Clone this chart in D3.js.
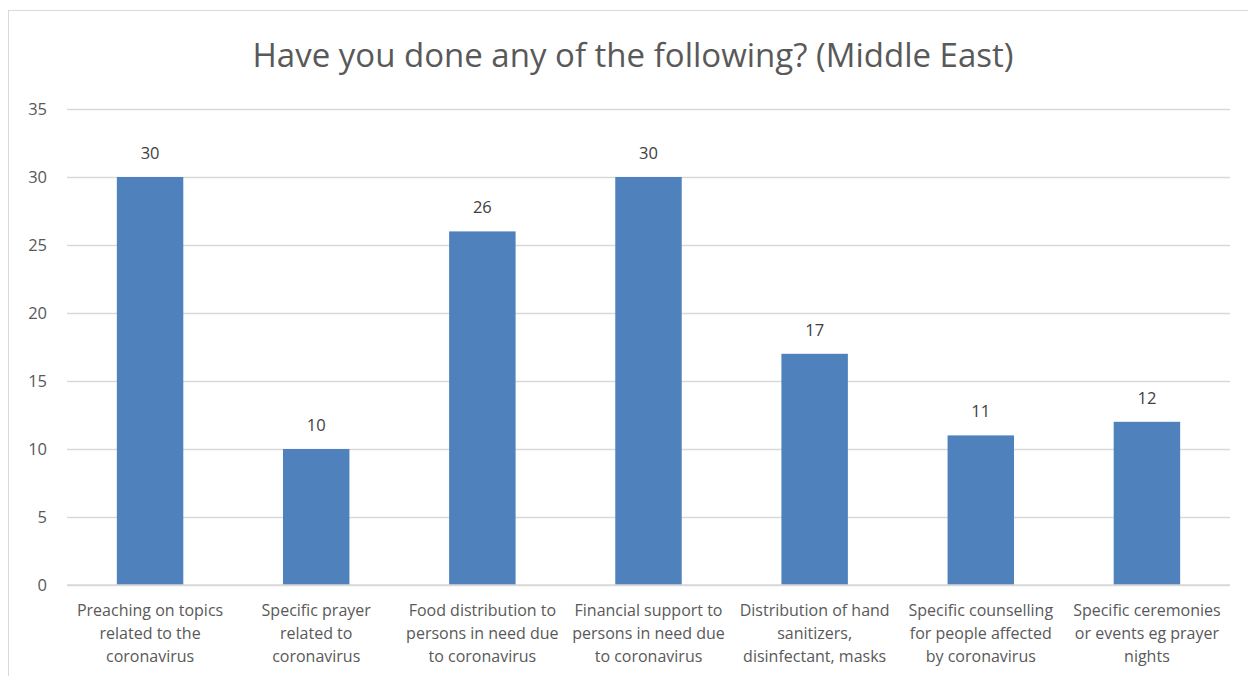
<!DOCTYPE html>
<html>
<head>
<meta charset="utf-8">
<script src="https://cdn.jsdelivr.net/npm/d3@7"></script>
<style>
  body { margin: 0; background: #fff; }
  svg { display: block; font-family: "Open Sans", Lato, sans-serif; }
</style>
</head>
<body>
<div id="chart"></div>
<script>
// data
var categories = [
    ["Preaching on topics", "related to the", "coronavirus"],
    ["Specific prayer", "related to", "coronavirus"],
    ["Food distribution to", "persons in need due", "to coronavirus"],
    ["Financial support to", "persons in need due", "to coronavirus"],
    ["Distribution of hand", "sanitizers,", "disinfectant, masks"],
    ["Specific counselling", "for people affected", "by coronavirus"],
    ["Specific ceremonies", "or events eg prayer", "nights"]
];
var values = [30, 10, 26, 30, 17, 11, 12];
var yTicks = [0, 5, 10, 15, 20, 25, 30, 35];
var title = "Have you done any of the following? (Middle East)";

var W = 1248, H = 676;
var margin = {top: 109, right: 18, bottom: 91, left: 67},
    width = W - margin.left - margin.right,
    height = H - margin.top - margin.bottom;

var svg = d3.select("#chart").append("svg")
    .attr("width", W)
    .attr("height", H);

// chart frame (runs off the right and bottom edge)
svg.append("rect")
    .attr("x", 8.5).attr("y", 10.5)
    .attr("width", W + 20).attr("height", H + 20)
    .attr("fill", "#fff")
    .attr("stroke", "#d9d9d9");

svg.append("text")
    .attr("x", 633).attr("y", 67)
    .attr("text-anchor", "middle")
    .attr("font-size", 33)
    .attr("fill", "#595959")
    .text(title);

var g = svg.append("g")
    .attr("transform", "translate(" + margin.left + "," + margin.top + ")");

var x = d3.scaleBand()
    .domain(d3.range(values.length))
    .range([0, width])
    .paddingInner(0.6)
    .paddingOuter(0.3);

var y = d3.scaleLinear()
    .domain([0, 35])
    .range([height, 0]);

// gridlines
var yAxis = g.append("g")
    .call(d3.axisLeft(y).tickValues(yTicks).tickSize(-width).tickPadding(20));
yAxis.select(".domain").remove();
yAxis.selectAll(".tick line").attr("stroke", "#d9d9d9").attr("stroke-width", 1.3);
yAxis.selectAll(".tick text")
    .attr("font-size", 16.5)
    .attr("font-family", "'Open Sans', Lato, sans-serif")
    .attr("fill", "#595959");

g.selectAll(".bar")
    .data(values)
    .enter().append("rect")
    .attr("class", "bar")
    .attr("x", function(d, i) { return x(i); })
    .attr("y", function(d) { return y(d); })
    .attr("width", x.bandwidth())
    .attr("height", function(d) { return height - y(d); })
    .attr("fill", "#4f81bd");

// baseline drawn over the bars
g.append("line")
    .attr("x1", 0).attr("x2", width)
    .attr("y1", height).attr("y2", height)
    .attr("stroke", "#d9d9d9").attr("stroke-width", 1.3);

g.selectAll(".val")
    .data(values)
    .enter().append("text")
    .attr("class", "val")
    .attr("x", function(d, i) { return x(i) + x.bandwidth() / 2; })
    .attr("y", function(d) { return y(d) - 18; })
    .attr("text-anchor", "middle")
    .attr("font-size", 16.5)
    .attr("fill", "#404040")
    .text(function(d) { return d; });

var labels = g.selectAll(".cat")
    .data(categories)
    .enter().append("text")
    .attr("class", "cat")
    .attr("text-anchor", "middle")
    .attr("font-size", 16)
    .attr("fill", "#595959")
    .attr("transform", function(d, i) {
        return "translate(" + (x(i) + x.bandwidth() / 2) + "," + (height + 31) + ")";
    });

labels.selectAll("tspan")
    .data(function(d) { return d; })
    .enter().append("tspan")
    .attr("x", 0)
    .attr("y", function(d, j) { return j * 23; })
    .text(function(d) { return d; });
</script>
</body>
</html>
